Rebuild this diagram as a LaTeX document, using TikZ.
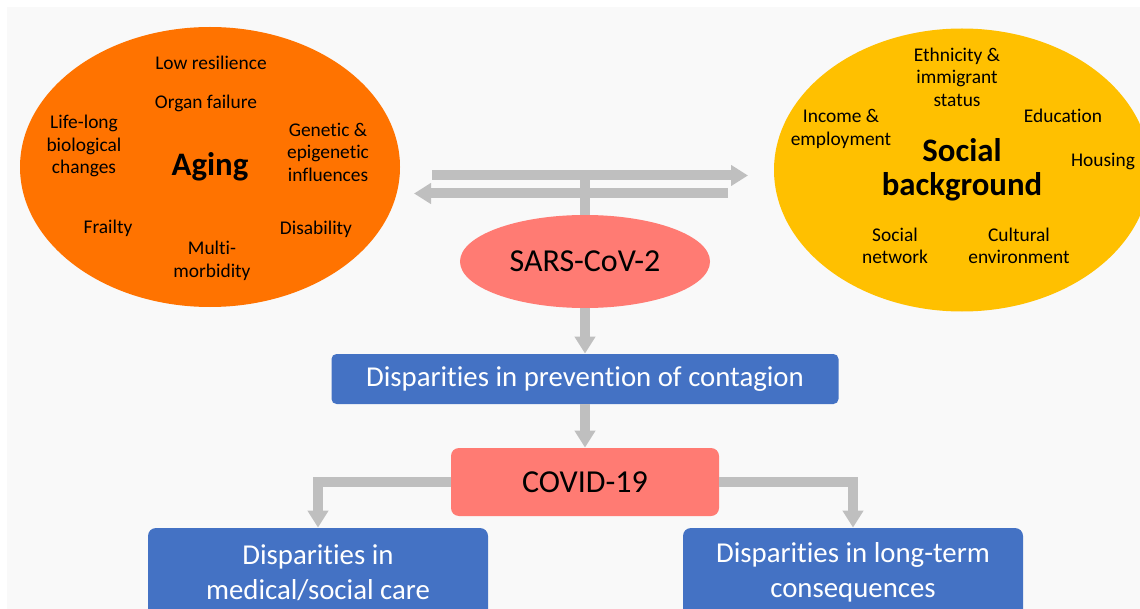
\documentclass[tikz,border=0pt]{standalone}
\usepackage{fontspec}
\setmainfont{Carlito}[Ligatures=NoCommon]
\usetikzlibrary{shapes.geometric,arrows.meta}
\definecolor{agingorange}{HTML}{FF7300}
\definecolor{socialyellow}{HTML}{FFC000}
\definecolor{virusred}{HTML}{FF7B73}
\definecolor{gapblue}{HTML}{4472C4}
\definecolor{arrowgray}{HTML}{BFBFBF}
\definecolor{canvas}{HTML}{F9F9F9}
\newcommand{\factorSize}[0]{\fontsize{9.7}{11.25}\selectfont}
\newcommand{\boxSize}[0]{\fontsize{14.4}{17.5}\selectfont}

\begin{document}
\begin{tikzpicture}[x=0.5pt, y=-0.5pt]
  \tikzset{factor/.style={font=\factorSize, align=center, inner sep=0pt},
    blob/.style={ellipse, inner sep=0pt, align=center,
      font=\bfseries\fontsize{16.4}{17}\selectfont},
    gapbox/.style={fill=gapblue, rounded corners=4pt, text=white,
      font=\boxSize, align=center, inner sep=0pt},
    virus/.style={fill=virusred, font=\fontsize{16}{18}\selectfont, inner sep=0pt},
    fat/.style={draw=arrowgray, line width=5pt, line join=miter,
      -{Triangle[width=10pt,length=8.5pt]}},
    bar/.style={draw=arrowgray, line width=5pt}}
  \useasboundingbox (0,0) rectangle (1140,609);
  \clip (0,0) rectangle (1140,609);
  \fill[white] (0,0) rectangle (1140,609);
  \fill[canvas] (7,7) rectangle (1140,609);

  \node[blob, fill=agingorange, minimum width=190pt, minimum height=140pt] (aging) at (210,167) {Aging};
  \node[factor] (resil) at (211,63) {Low resilience};
  \node[factor] (organ) at (206,103) {Organ failure};
  \node[factor] (lifelong) at (84,146) {Life-long\\biological\\changes};
  \node[factor] (genetic) at (328,152) {Genetic \&\\epigenetic\\influences};
  \node[factor] (frailty) at (108,228) {Frailty};
  \node[factor] (multi) at (212,261) {Multi-\\morbidity};
  \node[factor] (disab) at (316,229) {Disability};

  \node[blob, fill=socialyellow, minimum width=188pt, minimum height=141.5pt] (social) at (962,170) {Social\\background};
  \node[factor] (ethnic) at (957,77) {Ethnicity \&\\immigrant\\status};
  \node[factor] (income) at (841,129) {Income \&\\employment};
  \node[factor] (edu) at (1063,116) {Education};
  \node[factor] (housing) at (1103,161) {Housing};
  \node[factor] (network) at (895,246) {Social\\network};
  \node[factor] (culture) at (1019,246) {Cultural\\environment};

  \node[virus, ellipse, minimum width=125pt, minimum height=46.5pt] (sars) at (585,261.5) {SARS-CoV-2};
  \node[gapbox, rounded corners=2.5pt, minimum width=253.5pt, minimum height=25pt] (prev) at (585,379) {Disparities in prevention of contagion};
  \node[virus, rounded corners=4pt, minimum width=134pt, minimum height=34pt] (covid) at (585,482) {COVID-19};
  \node[gapbox, minimum width=170pt, minimum height=44.5pt] (care) at (318,572.5) {Disparities in\\medical/social care};
  \node[gapbox, minimum width=170pt, minimum height=44.5pt] (longterm) at (853,572.5) {Disparities in long-term\\consequences};

  \coordinate (hub) at (585,175.5);
  \coordinate (rstart) at (432,175.5);
  \coordinate (rtip) at (748,175.5);
  \coordinate (lstart) at (728,193.5);
  \coordinate (ltip) at (414,193.5);
  \draw[bar] (hub) -- (sars.north);
  \draw[fat] (rstart) -- (rtip);
  \draw[fat] (lstart) -- (ltip);
  \draw[fat] (sars.south) -- (prev.north);
  \draw[fat] (prev.south) -- (covid.north);
  \draw[fat] (covid.west) -| (care.north);
  \draw[fat] (covid.east) -| (longterm.north);
\end{tikzpicture}
\end{document}
